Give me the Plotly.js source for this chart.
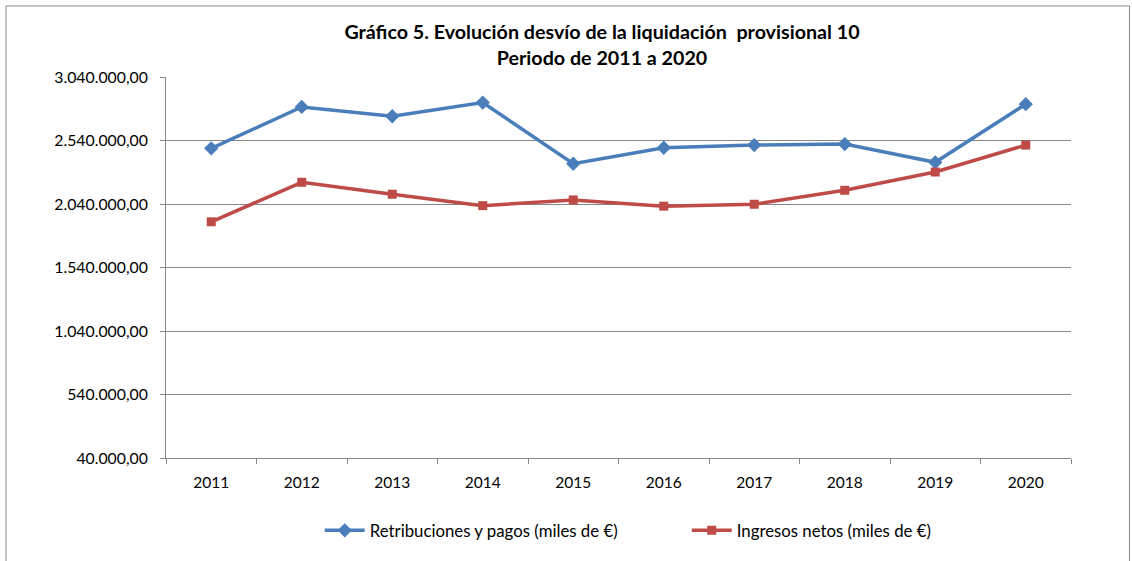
<!DOCTYPE html>
<html>
<head>
<meta charset="utf-8">
<script src="https://cdn.plot.ly/plotly-3.0.1.min.js"></script>
<style>
html,body{margin:0;padding:0;background:#fff;}
#chart{width:1132px;height:561px;}
</style>
</head>
<body>
<div id="chart"></div>
<script>
const years = ["2011","2012","2013","2014","2015","2016","2017","2018","2019","2020"];
const retribuciones = [2478000, 2804000, 2731000, 2839000, 2357000, 2483000, 2504000, 2512000, 2368000, 2826000];
const ingresos = [1900000, 2211000, 2117000, 2027000, 2072000, 2023000, 2038000, 2148000, 2292000, 2504000];
const yTicks = [40000, 540000, 1040000, 1540000, 2040000, 2540000, 3040000];
const seriesNames = ["Retribuciones y pagos (miles de €)", "Ingresos netos (miles de €)"];
const titleText = "<b>Gráfico 5. Evolución desvío de la liquidación  provisional 10</b><br><b>Periodo de 2011 a 2020</b>";

const FONT = "Lato, sans-serif";

const traces = [
  {
    x: years, y: retribuciones, name: seriesNames[0], type: "scatter", mode: "lines+markers",
    line: {color: "#4a7ebb", width: 3.5},
    marker: {symbol: "diamond", size: 11, color: "#4a7ebb"}
  },
  {
    x: years, y: ingresos, name: seriesNames[1], type: "scatter", mode: "lines+markers",
    line: {color: "#be4b48", width: 3.5},
    marker: {symbol: "square", size: 9, color: "#be4b48"}
  }
];

const layout = {
  width: 1132, height: 561,
  margin: {l: 166, r: 61, t: 77, b: 103},
  paper_bgcolor: "#fff", plot_bgcolor: "#fff",
  separators: ",.",
  font: {family: FONT, size: 15, color: "#000"},
  title: {
    text: titleText,
    font: {family: FONT, size: 19.7, color: "#000"},
    x: 0.4818, xref: "paper", xanchor: "center",
    y: 0.930, yref: "container", yanchor: "middle"
  },
  xaxis: {
    type: "category",
    range: [-0.5, 9.5],
    tickson: "boundaries",
    ticks: "outside", ticklen: 5, tickcolor: "#868686",
    ticklabelstandoff: 10,
    showline: true, linecolor: "#868686", linewidth: 1,
    showgrid: false, zeroline: false,
    tickfont: {family: FONT, size: 15.5}
  },
  yaxis: {
    range: [40000, 3040000],
    tickvals: yTicks,
    tickformat: ",.2f",
    ticks: "outside", ticklen: 5, tickcolor: "#868686",
    ticklabelstandoff: 9,
    showline: true, linecolor: "#868686", linewidth: 1,
    showgrid: true, gridcolor: "#868686", gridwidth: 1,
    zeroline: false,
    tickfont: {family: FONT, size: 15.8}
  },
  showlegend: true,
  legend: {
    orientation: "h",
    x: 0.5754, xanchor: "center",
    y: -0.19, yanchor: "middle",
    font: {family: FONT, size: 16.8},
    itemwidth: 40,
    entrywidth: 312
  },
  shapes: [
    {type: "rect", xref: "paper", yref: "paper",
     x0: -0.1768, x1: 1.0646, y0: -0.3, y1: 1.1865,
     line: {color: "#888", width: 1}, fillcolor: "rgba(0,0,0,0)", layer: "below"}
  ]
};

Plotly.newPlot("chart", traces, layout, {displayModeBar: false, staticPlot: true});
</script>
</body>
</html>
